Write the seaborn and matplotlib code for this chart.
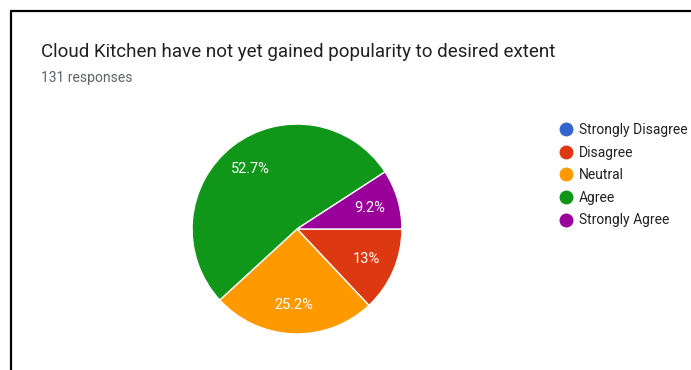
import matplotlib
matplotlib.use("Agg")
import matplotlib.pyplot as plt
from matplotlib.lines import Line2D
import seaborn as sns

# Survey question and responses
title = "Cloud Kitchen have not yet gained popularity to desired extent"
subtitle = "131 responses"
categories = ["Strongly Disagree", "Disagree", "Neutral", "Agree", "Strongly Agree"]
counts = [0, 17, 33, 69, 12]
colors = ["#3366CC", "#DC3912", "#FF9900", "#109618", "#990099"]

sns.set_theme(style="white")
plt.rcParams["font.family"] = ["Roboto", "DejaVu Sans"]
palette = sns.color_palette(colors)

W, H = 691, 370
fig = plt.figure(figsize=(W / 100, H / 100), dpi=100)
fig.patch.set_facecolor("white")

# Card border (left and top edges)
fig.add_artist(Line2D([11 / W, 11 / W], [0, 1 - 11 / H], color="black", lw=1.6,
                      transform=fig.transFigure))
fig.add_artist(Line2D([11 / W, 1], [1 - 11 / H, 1 - 11 / H], color="black", lw=1.6,
                      transform=fig.transFigure))

fig.text(41 / W, 1 - 52 / H, title, fontsize=13.5, color="#212121", va="center", ha="left")
fig.text(41 / W, 1 - 78 / H, subtitle, fontsize=10, color="#5f6368", va="center", ha="left")

# Pie area: centre (297, 229) px, radius 106 px
cx, cy, r = 297, 229, 106
ax = fig.add_axes([(cx - r) / W, (H - cy - r) / H, 2 * r / W, 2 * r / H])


def fmt_pct(p):
    if p <= 0:
        return ""
    s = f"{p:.1f}"
    if s.endswith(".0"):
        s = s[:-2]
    return s + "%"


wedges, texts, autotexts = ax.pie(
    counts,
    colors=palette,
    startangle=0,
    counterclock=False,
    autopct=fmt_pct,
    pctdistance=0.72,
    radius=1,
    wedgeprops=dict(edgecolor="white", linewidth=1),
    textprops=dict(color="white", fontsize=10.5),
)
ax.set_xlim(-1.01, 1.01)
ax.set_ylim(-1.01, 1.01)
ax.set_aspect("equal")
ax.axis("off")

# Legend
handles = [Line2D([0], [0], marker="o", linestyle="", markersize=9,
                  markerfacecolor=c, markeredgecolor=c) for c in palette]
fig.legend(handles, categories, loc="upper left",
           bbox_to_anchor=(558 / W, 1 - 123 / H), frameon=False,
           fontsize=10, labelcolor="#222222", handletextpad=0.3,
           labelspacing=0.62, handlelength=1.2, borderaxespad=0, borderpad=0)

fig.savefig("out.png", dpi=100, facecolor="white")
